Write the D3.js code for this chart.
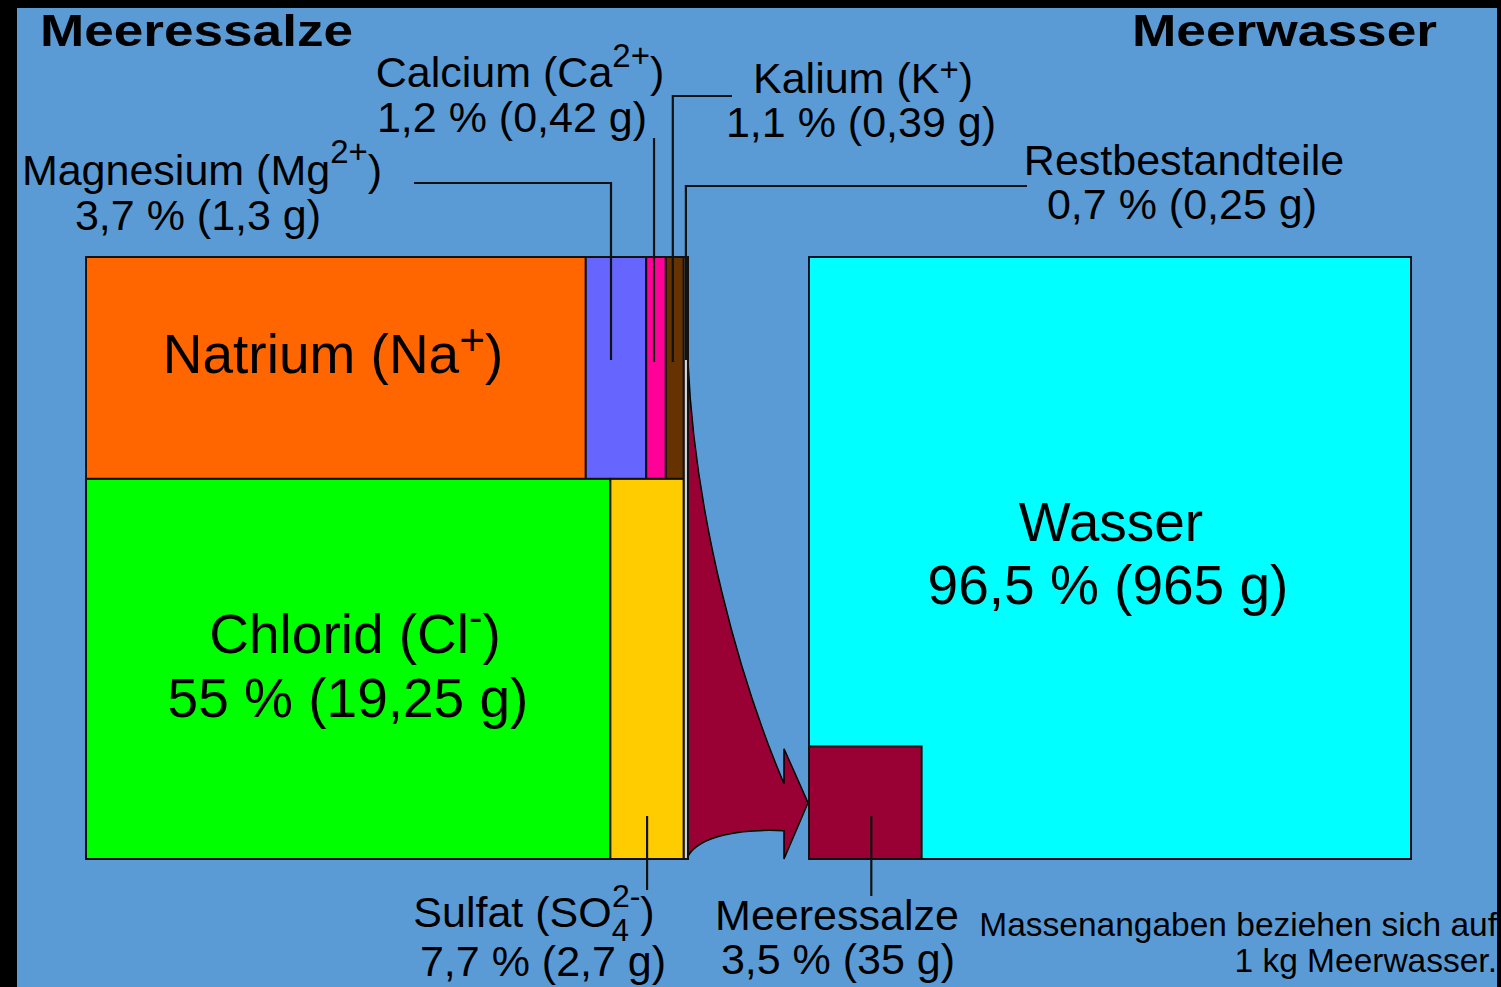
<!DOCTYPE html>
<html><head><meta charset="utf-8">
<script src="https://cdn.jsdelivr.net/npm/d3@7"></script>
<style>html,body{margin:0;padding:0;background:#000;}svg{display:block;}</style>
</head><body>
<script>
// ---- data ----
const saltNames   = ["Natrium","Magnesium","Calcium","Kalium","Chlorid","Sulfat","Restbestandteile"];
const saltPercent = [30.6, 3.7, 1.2, 1.1, 55, 7.7, 0.7];
const saltGrams   = [null, 1.3, 0.42, 0.39, 19.25, 2.7, 0.25];
const saltRow     = ["top","top","top","top","bottom","bottom","strip"];
const saltColors  = ["#ff6600","#6666ff","#ff0099","#663300","#00ff00","#ffcc00","#d2d2d2"];
const waterNames   = ["Wasser","Meeressalze"];
const waterPercent = [96.5, 3.5];
const waterGrams   = [965, 35];
const waterColors  = ["#00ffff","#990033"];

const W = 1501, H = 987;
const FONT = "'Liberation Sans', Arial, Helvetica, sans-serif";
const de = v => String(v).replace(".", ",");

const svg = d3.select("body").append("svg").attr("width", W).attr("height", H);
svg.append("rect").attr("width", W).attr("height", H).attr("fill", "#5b9bd5");

// ---- scales ----
const side = 602;
const sx = d3.scaleLinear().domain([0, 1]).range([86, 86 + side]);
const sy = d3.scaleLinear().domain([0, 1]).range([257, 257 + side]);
const wx0 = 809, wy0 = 257;
const wSide = d3.scaleSqrt().domain([0, 100]).range([0, side]);

// ---- salt layout (slice & dice from percentages) ----
const total = d3.sum(saltPercent);
const restIdx = saltRow.indexOf("strip");
const stripFrac = saltPercent[restIdx] / total;
const remW = 1 - stripFrac;
const topIdx = saltRow.map((r,i)=>r==="top"?i:-1).filter(i=>i>=0);
const botIdx = saltRow.map((r,i)=>r==="bottom"?i:-1).filter(i=>i>=0);
const topSum = d3.sum(topIdx, i => saltPercent[i]);
const botSum = d3.sum(botIdx, i => saltPercent[i]);
const topH = (topSum / total) / remW;
const cells = [];
let cx = 0;
topIdx.forEach(i => { const w = saltPercent[i]/topSum*remW; cells[i] = {x0:cx, x1:cx+w, y0:0, y1:topH}; cx += w; });
cx = 0;
botIdx.forEach(i => { const w = saltPercent[i]/botSum*remW; cells[i] = {x0:cx, x1:cx+w, y0:topH, y1:1}; cx += w; });
cells[restIdx] = {x0:remW, x1:1, y0:0, y1:1};

const px = c => ({x:sx(c.x0), y:sy(c.y0), w:sx(c.x1)-sx(c.x0), h:sy(c.y1)-sy(c.y0)});

// ---- arrow (drawn under boxes) ----
const saltSide = wSide(waterPercent[1]);
const ssY0 = wy0 + side - saltSide;
const tipX = wx0 - 1, tipY = ssY0 + saltSide/2;
const ax = sx(1), aTop = 362, aBot = sy(1) - 3;
const hb = tipX - 24;
const innerTop = tipY - 19, innerBot = tipY + 28, barbTop = tipY - 54, barbBot = sy(1);
const arrow = d3.path();
arrow.moveTo(ax, aTop);
arrow.bezierCurveTo(ax+7, aTop+158, hb-44, aTop+318, hb, innerTop);
arrow.lineTo(hb, barbTop);
arrow.lineTo(tipX, tipY);
arrow.lineTo(hb, barbBot);
arrow.lineTo(hb, innerBot);
arrow.bezierCurveTo(hb-44, innerBot-2, ax+12, innerBot+5, ax, aBot);
arrow.closePath();
svg.append("path").attr("d", arrow.toString()).attr("fill", "#990033")
  .attr("stroke", "#000").attr("stroke-width", 1.5).attr("stroke-linejoin","miter");

// ---- salt rects ----
svg.append("g").selectAll("rect").data(saltNames).join("rect")
  .attr("x", (d,i)=>px(cells[i]).x).attr("y", (d,i)=>px(cells[i]).y)
  .attr("width", (d,i)=>px(cells[i]).w).attr("height", (d,i)=>px(cells[i]).h)
  .attr("fill", (d,i)=>saltColors[i]).attr("stroke", "#111").attr("stroke-width", 2);

// ---- water rects ----
svg.append("rect").attr("x", wx0).attr("y", wy0).attr("width", wSide(100)).attr("height", wSide(100))
  .attr("fill", waterColors[0]).attr("stroke", "#112").attr("stroke-width", 2);
svg.append("rect").attr("x", wx0).attr("y", ssY0).attr("width", saltSide).attr("height", saltSide)
  .attr("fill", waterColors[1]).attr("stroke", "#111").attr("stroke-width", 2);

// ---- leader lines ----
const cxOf = i => (sx(cells[i].x0)+sx(cells[i].x1))/2;
const lines = [
  [[414,183],[cxOf(1)-5,183],[cxOf(1)-5,360]],
  [[cxOf(2)-2,138],[cxOf(2)-2,362]],
  [[732,96],[cxOf(3)-2,96],[cxOf(3)-2,362]],
  [[1027,186],[cxOf(6),186],[cxOf(6),360]],
  [[cxOf(5),816],[cxOf(5),890]],
  [[wx0+saltSide/2+6,816],[wx0+saltSide/2+6,896]]
];
svg.append("g").selectAll("path").data(lines).join("path")
  .attr("d", d3.line()).attr("fill","none").attr("stroke","#111").attr("stroke-width",2.2);

// ---- labels ----
function label(x, y, parts, size, anchor="middle", weight="normal") {
  const t = svg.append("text").attr("x", x).attr("y", y).attr("text-anchor", anchor)
    .attr("font-family", FONT).attr("font-size", size).attr("font-weight", weight).attr("fill", "#000");
  parts.forEach(p => {
    const s = t.append("tspan").text(p.t);
    if (p.size) s.attr("font-size", p.size);
    if (p.dy) s.attr("dy", p.dy);
    if (p.dx) s.attr("dx", p.dx);
  });
  return t;
}
const pctLine = i => `${de(saltPercent[i])} % (${de(saltGrams[i])} g)`;
const S = 43;

label(40, 46, [{t:"Meeressalze"}], 45, "start", "bold").attr("textLength", 313).attr("lengthAdjust","spacingAndGlyphs");
label(1437, 46, [{t:"Meerwasser"}], 45, "end", "bold").attr("textLength", 305).attr("lengthAdjust","spacingAndGlyphs");

// Magnesium
label(202, 185, [{t:saltNames[1]+" (Mg"},{t:"2+",size:33,dy:-22},{t:")",dy:22}], S);
label(198, 230, [{t:pctLine(1)}], S);
// Calcium
label(520, 87, [{t:saltNames[2]+" (Ca"},{t:"2+",size:33,dy:-20},{t:")",dy:20}], S);
label(512, 132, [{t:pctLine(2)}], S);
// Kalium
label(863, 93, [{t:saltNames[3]+" (K"},{t:"+",size:33,dy:-12},{t:")",dy:12}], S);
label(861, 137, [{t:pctLine(3)}], S);
// Rest
label(1184, 175, [{t:saltNames[6]}], S);
label(1182, 219, [{t:pctLine(6)}], S);
// Natrium
label(333, 373, [{t:saltNames[0]+" (Na"},{t:"+",size:44,dy:-18},{t:")",dy:18}], 55);
// Chlorid
label(355, 653, [{t:saltNames[4]+" (Cl"},{t:"-",size:40,dy:-22},{t:")",dy:22}], 55);
label(348, 717, [{t:pctLine(4)}], 55);
// Wasser
label(1111, 541, [{t:waterNames[0]}], 55);
label(1108, 604, [{t:`${de(waterPercent[0])} % (${waterGrams[0]} g)`}], 55);
// Sulfat
label(534, 927, [{t:saltNames[5]+" (SO"},{t:"4",size:31,dy:14},{t:"2-",size:32,dx:-17,dy:-34},{t:")",dy:20}], S);
label(543, 976, [{t:pctLine(5)}], S);
// Meeressalze
label(837, 930, [{t:waterNames[1]}], S);
label(838, 974, [{t:`${de(waterPercent[1])} % (${waterGrams[1]} g)`}], S);
// note
label(1497, 936, [{t:"Massenangaben beziehen sich auf"}], 33.5, "end");
label(1497, 972, [{t:"1 kg Meerwasser."}], 33.5, "end");

// ---- black frame ----
svg.append("rect").attr("x",0).attr("y",0).attr("width",17).attr("height",H).attr("fill","#000");
svg.append("rect").attr("x",0).attr("y",0).attr("width",W).attr("height",8).attr("fill","#000");
svg.append("rect").attr("x",1497).attr("y",0).attr("width",4).attr("height",H).attr("fill","#000");
</script>
</body></html>
